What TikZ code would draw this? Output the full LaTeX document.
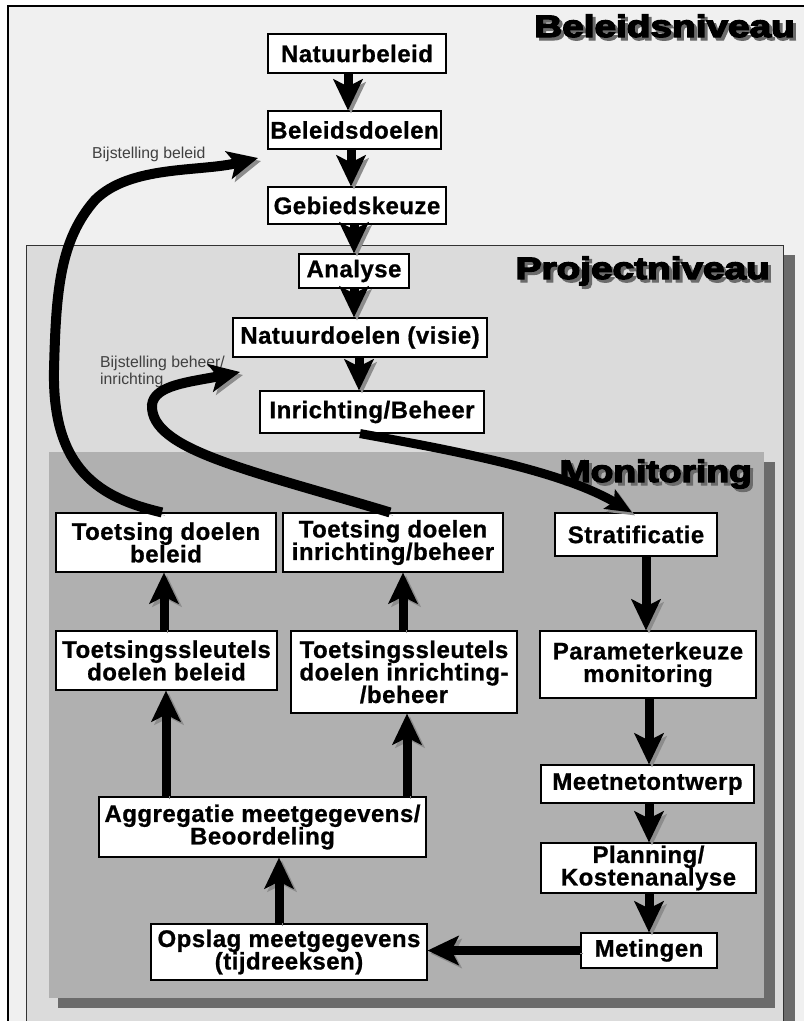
\documentclass[tikz,border=0pt]{standalone}
\usepackage{graphicx}
\usepackage{fontspec}
\setmainfont{Liberation Sans}
\newfontfamily\boxfont{Liberation Sans}[LetterSpace=2, BoldFeatures={FakeBold=0.8}]
\newfontfamily\heavyfont{Liberation Sans}[BoldFeatures={FakeBold=4}]
\usetikzlibrary{arrows.meta}
\definecolor{bgout}{gray}{0.94}
\definecolor{bgproj}{gray}{0.86}
\definecolor{bgmon}{gray}{0.69}
\definecolor{frameshade}{gray}{0.42}
\definecolor{arrshade}{gray}{0.55}
\definecolor{lbl}{gray}{0.25}
% title text with a grey drop shadow, in one box
\newcommand{\shadowtitle}[2]{\makebox[0pt][l]{\hspace*{3pt}\raisebox{-3pt}{\textcolor{frameshade}{\scalebox{#1}[1]{#2}}}}\scalebox{#1}[1]{#2}}
\tikzset{
  box/.style={draw=black, line width=1.1pt, fill=white, inner sep=0pt, align=center,
    font=\boxfont\bfseries\fontsize{24}{22.5}\selectfont},
  arr/.style={line width=9pt, -{Stealth[length=31pt,width=29pt,inset=7pt]},
    preaction={draw=arrshade, transform canvas={shift={(3pt,-3pt)}}}},
  carr/.style={line width=10pt, -{Stealth[length=30pt,width=28pt,inset=7pt]},
    preaction={draw=arrshade, transform canvas={shift={(3pt,-3pt)}}}},
  sarr/.style={line width=9pt, -{Stealth[length=26pt,width=22pt,inset=5pt]},
    preaction={draw=arrshade, transform canvas={shift={(3pt,-3pt)}}}},
  ttl/.style={inner sep=0pt, anchor=base east, font=\heavyfont\bfseries\fontsize{31}{31}\selectfont},
  lab/.style={inner sep=0pt, text=lbl, font=\fontsize{15.8}{16.5}\selectfont}
}
\begin{document}
\begin{tikzpicture}[x=1pt,y=-1pt]
\useasboundingbox (0,0) rectangle (804,1021);
% background and frames
\fill[white] (0,0) rectangle (804,1021);
\fill[bgout] (8,6) rectangle (804,1021);
\draw[line width=1.5pt] (8,1021) -- (8,6) -- (804,6);
\fill[frameshade] (783,255) rectangle (795,1021);
\fill[bgproj] (26,245) rectangle (783,1021);
\draw[line width=1pt, black!80] (26,1021) -- (26,245) -- (783,245) -- (783,1021);
\fill[frameshade] (58,462) rectangle (775,1008);
\fill[bgmon] (49,452) rectangle (764,998);
% titles
\node[ttl] (tbl) at (795,37) {\shadowtitle{1.25}{Beleidsniveau}};
\node[ttl] (tpr) at (770,279) {\shadowtitle{1.25}{Projectniveau}};
\node[ttl] (tmo) at (752,482) {\shadowtitle{1.2}{Monitoring}};
% boxes
\node[box, minimum width=178pt, minimum height=39pt] (natb) at (357,53.5) {Natuurbeleid};
\node[box, minimum width=173pt, minimum height=38pt] (beld) at (354.5,130) {Beleidsdoelen};
\node[box, minimum width=178pt, minimum height=37pt] (gebk) at (357,205.5) {Gebiedskeuze};
\node[box, minimum width=110pt, minimum height=34pt] (ana) at (354,271) {Analyse};
\node[box, minimum width=254pt, minimum height=39pt] (natd) at (360,337.5) {Natuurdoelen (visie)};
\node[box, minimum width=224pt, minimum height=42pt] (inr) at (372,412) {Inrichting/Beheer};
\node[box, minimum width=220pt, minimum height=59pt] (tbel) at (166,542.5) {Toetsing doelen\\beleid};
\node[box, minimum width=220pt, minimum height=59pt] (tinr) at (393,542.5) {Toetsing doelen\\inrichting/beheer};
\node[box, minimum width=162pt, minimum height=43pt] (strat) at (636,534.5) {Stratificatie};
\node[box, minimum width=221pt, minimum height=59pt] (sbel) at (166.5,660.5) {Toetsingssleutels\\doelen beleid};
\node[box, minimum width=226pt, minimum height=82pt] (sinr) at (404,672) {Toetsingssleutels\\doelen inrichting-\\/beheer};
\node[box, minimum width=216pt, minimum height=67pt] (park) at (648,664.5) {Parameterkeuze\\monitoring};
\node[box, minimum width=213pt, minimum height=38pt] (meet) at (647.5,784) {Meetnetontwerp};
\node[box, minimum width=327pt, minimum height=60pt] (aggr) at (262.5,827) {Aggregatie meetgegevens/\\Beoordeling};
\node[box, minimum width=215pt, minimum height=50pt] (plan) at (648.5,868) {Planning/\\Kostenanalyse};
\node[box, minimum width=136pt, minimum height=35pt] (metn) at (649,950.5) {Metingen};
\node[box, minimum width=276pt, minimum height=56pt] (opsl) at (289,952) {Opslag meetgegevens\\(tijdreeksen)};
% labels
\node[lab, anchor=base west] (lb1) at (92,158) {Bijstelling beleid};
\node[lab, anchor=north west, align=left] (lb2) at (100,356) {Bijstelling beheer/\\inrichting};
% straight arrows
\draw[arr] ([xshift=-9pt]natb.south) -- ([xshift=-6.5pt]beld.north);
\draw[arr] ([xshift=-3.5pt]beld.south) -- ([xshift=-6pt]gebk.north);
\draw[arr] ([xshift=-3pt]gebk.south) -- (ana.north);
\draw[arr] (ana.south) -- ([xshift=-6pt]natd.north);
\draw[arr] ([xshift=-1pt]natd.south) -- ([xshift=-13pt]inr.north);
\draw[arr] ([xshift=10pt]strat.south) -- ([xshift=-2pt]park.north);
\draw[arr] ([xshift=1pt]park.south) -- ([xshift=1.5pt]meet.north);
\draw[arr] ([xshift=1.5pt]meet.south) -- ([xshift=0.5pt]plan.north);
\draw[arr] ([xshift=0.5pt]plan.south) -- (metn.north);
\draw[arr] (metn.west) -- (metn.west -| opsl.east);
\draw[arr] ([xshift=-10pt]opsl.north) -- ([xshift=16.5pt]aggr.south);
\draw[arr] ([xshift=-96.5pt]aggr.north) -- ([xshift=-0.5pt]sbel.south);
\draw[arr] ([xshift=144.5pt]aggr.north) -- ([xshift=3pt]sinr.south);
\draw[arr] ([xshift=-2.5pt]sbel.north) -- ([xshift=-2pt]tbel.south);
\draw[arr] ([xshift=-1pt]sinr.north) -- ([xshift=10pt]tinr.south);
% curved arrows
\draw[sarr] ([xshift=-12pt]inr.south) .. controls (450,450) and (560,470) .. ([xshift=-4pt]strat.north);
\coordinate (bb) at (258,158);
\draw[carr] ([xshift=-4pt]tbel.north) .. controls (100,498) and (52,470) .. (54,370)
  .. controls (56,290) and (60,240) .. (95,200)
  .. controls (130,165) and (200,172) .. (bb);
\coordinate (bi) at (240,372);
\draw[carr] ([xshift=-3pt]tinr.north) .. controls (250,470) and (150,450) .. (152,405)
  .. controls (154,385) and (190,382) .. (bi);
\end{tikzpicture}
\end{document}
